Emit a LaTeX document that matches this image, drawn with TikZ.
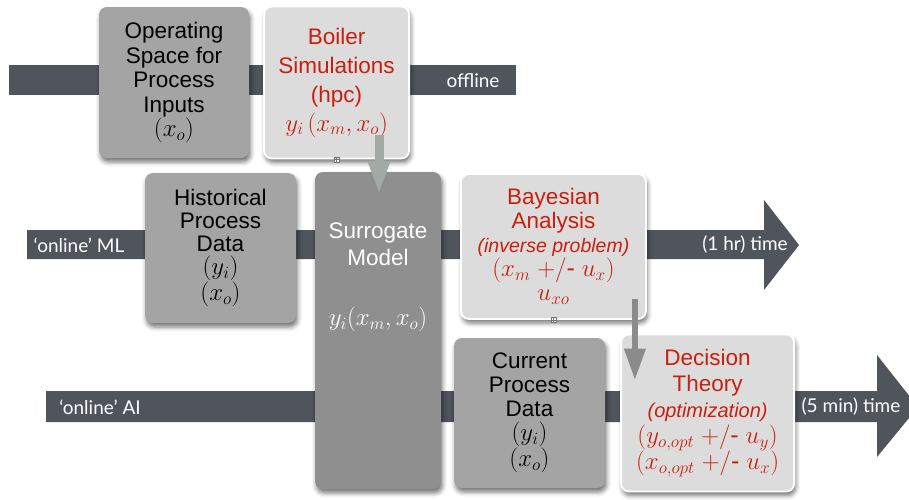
\documentclass[tikz,border=0pt]{standalone}
\usepackage{fontspec}
\setmainfont{Liberation Sans}
\newfontfamily\handfont{Lato}
\usetikzlibrary{
    arrows.meta,
    positioning,
    calc,
    shadows.blur
}
\definecolor{bandgray}{RGB}{80,84,91}
\definecolor{procgray}{RGB}{164,164,164}
\definecolor{surrgray}{RGB}{143,143,143}
\definecolor{simgray}{RGB}{220,220,220}
\definecolor{simred}{RGB}{201,31,14}
\definecolor{feedgray}{RGB}{163,170,166}
\definecolor{passgray}{RGB}{139,139,139}
\newcommand{\titlefont}[1]{\fontsize{22.5}{#1}\selectfont}
\newcommand{\varsize}{\fontsize{25}{25}\selectfont}
\newcommand{\plusminus}{\;{+}/\mbox{-}\;}
\tikzstyle{procbox} = [
    rectangle,
    rounded corners=8pt,
    fill=procgray,
    inner sep=0pt,
    align=center,
    text=black,
    blur shadow={shadow xshift=1.5pt, shadow yshift=-4pt,
        shadow blur radius=4.5pt, shadow opacity=55}
]
\tikzstyle{simbox} = [
    procbox,
    fill=simgray,
    draw=white,
    line width=1.8pt,
    text=simred
]
\tikzstyle{band} = [fill=bandgray]
\tikzstyle{bandlabel} = [
    text=white,
    inner sep=0pt,
    font=\handfont\fontsize{19}{19}\selectfont
]
\tikzstyle{feed} = [
    line width=9pt,
    draw=feedgray,
    -{Triangle[width=20pt, length=32pt]}
]
\tikzstyle{handle} = [
    draw=black!55,
    fill=white,
    line width=0.4pt,
    minimum size=5pt,
    inner sep=0pt,
    path picture={\draw[black!55, line width=0.4pt]
        (path picture bounding box.north) -- (path picture bounding box.south)
        (path picture bounding box.west) -- (path picture bounding box.east);}
]

\begin{document}
\begin{tikzpicture}[x=1pt, y=-1pt]
        \useasboundingbox (0,0) rectangle (909,499);

        % Time bands
        \fill[band] (9,65) rectangle (516,95);
        \fill[band] (27,230) -- (764,230) -- (764,200) -- (799,245)
            -- (764,290) -- (764,259) -- (27,259) -- cycle;
        \fill[band] (46,391) -- (877,391) -- (877,355) -- (918,407)
            -- (877,457) -- (877,422) -- (46,422) -- cycle;

        % Nodes
        \node[procbox, minimum width=150pt, minimum height=151pt, font=\titlefont{24.5}]
            (inputs) at (174,82.5) {Operating\\Space for\\Process\\Inputs\\{\varsize$(x_o)$}};
        \node[simbox, minimum width=145pt, minimum height=152pt, font=\titlefont{29},
            right=14pt of inputs] (boiler) {Boiler\\Simulations\\(hpc)\\{\varsize$y_i\,(x_m, x_o)$}};
        \node[procbox, minimum width=151pt, minimum height=150pt, font=\titlefont{23}]
            (history) at (220.5,248) {Historical\\Process\\Data\\{\varsize$(y_i)$}\\{\varsize$(x_o)$}};
        \node[procbox, fill=surrgray, minimum width=126pt, minimum height=317pt]
            (surrogate) at (378,330.5) {};
        \node[inner sep=0pt, align=center, text=white, font=\titlefont{27},
            below=51pt of surrogate.north] (surrtext) {Surrogate\\Model\\[33pt]{\varsize$y_i(x_m, x_o)$}};
        \node[simbox, minimum width=185pt, minimum height=145pt, font=\titlefont{24}]
            (bayes) at (553.5,246.5) {Bayesian\\Analysis\\{\itshape\fontsize{19.5}{22}\selectfont(inverse problem)}\\{\varsize$(x_m\plusminus u_x)$}\\{\varsize$u_{xo}$}};
        \node[procbox, minimum width=151pt, minimum height=150pt, font=\titlefont{24}]
            (current) at (529.5,413) {Current\\Process\\Data\\{\varsize$(y_i)$}\\{\varsize$(x_o)$}};
        \node[simbox, minimum width=173pt, minimum height=157pt, font=\titlefont{26},
            right=15pt of current] (decision) {Decision\\Theory\\{\itshape\fontsize{20}{22}\selectfont(optimization)}\\{\varsize$(y_{o,opt}\plusminus u_y)$}\\{\varsize$(x_{o,opt}\plusminus u_x)$}};

        % Band labels
        \node[bandlabel] (offlinelbl) at (473,81) {offline};
        \node[bandlabel] (mllbl) at (79,245) {‘online’ ML};
        \node[bandlabel] (hourlbl) at (745,245) {(1 hr) time};
        \node[bandlabel] (ailbl) at (100,407) {‘online’ AI};
        \node[bandlabel] (minlbl) at (851,407) {(5 min) time};

        % Text box handles
        \node[handle] (boilerhandle) at (boiler.south) {};
        \node[handle] (bayeshandle) at (bayes.south) {};

        % Feed arrows
        \coordinate (simout) at ($(boiler.south east)+(-31,-24)$);
        \coordinate (postout) at ($(bayes.south east)+(-12,-21)$);
        \draw[feed] (simout) -- ([yshift=-22pt]simout |- surrogate.north);
        \draw[feed, line width=6.5pt, draw=passgray] (postout) -- ([yshift=-47pt]postout |- decision.north);
    \end{tikzpicture}
\end{document}
